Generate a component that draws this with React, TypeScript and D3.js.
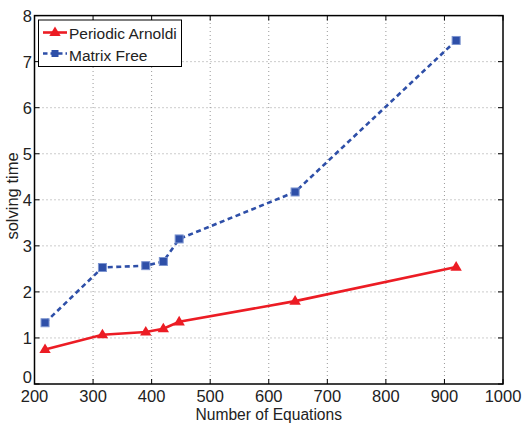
import React from "react";
import * as d3 from "d3";

// values
const equations = [218, 316, 390, 420, 447, 645, 920];
const arnoldiTime = [0.75, 1.07, 1.13, 1.2, 1.35, 1.8, 2.54];
const matrixFreeTime = [1.33, 2.53, 2.57, 2.66, 3.15, 4.17, 7.46];
const xTicks = [200, 300, 400, 500, 600, 700, 800, 900, 1000];
const yTicks = [0, 1, 2, 3, 4, 5, 6, 7, 8];

const W = 522;
const H = 424;
const margin = { top: 15.6, right: 19, bottom: 40, left: 34.5 };
const RED = "#ec1c24";
const BLUE = "#2e4fa8";
const FONT = "'Liberation Sans', Arial, Helvetica, sans-serif";

function triangle(cx: number, cy: number, r: number) {
  return `M${cx},${cy - r}L${cx + r * 0.95},${cy + r * 0.6}L${cx - r * 0.95},${cy + r * 0.6}Z`;
}

export default function App() {
  const x = d3.scaleLinear().domain([200, 1000]).range([margin.left, W - margin.right]);
  const y = d3.scaleLinear().domain([0, 8]).range([H - margin.bottom, margin.top]);
  const x0 = x(200), x1 = x(1000), y0 = y(0), y1 = y(8);

  const redPts = equations.map((e, i) => [e, arnoldiTime[i]] as [number, number]);
  const bluePts = equations.map((e, i) => [e, matrixFreeTime[i]] as [number, number]);
  const line = d3.line<[number, number]>().x((d) => x(d[0])).y((d) => y(d[1]));

  return (
    <svg width={W} height={H} style={{ position: "absolute", left: 0, top: 0, background: "#fff" }}>
      {/* grid */}
      <g stroke="#999" strokeWidth={1} strokeDasharray="1,3">
        {xTicks.slice(1, -1).map((t) => (
          <line key={"gx" + t} x1={x(t)} x2={x(t)} y1={y0} y2={y1} />
        ))}
        {yTicks.slice(1, -1).map((t) => (
          <line key={"gy" + t} x1={x0} x2={x1} y1={y(t)} y2={y(t)} />
        ))}
      </g>
      {/* ticks inward */}
      <g stroke="#000" strokeWidth={1}>
        {xTicks.map((t) => (
          <g key={"tx" + t}>
            <line x1={x(t)} x2={x(t)} y1={y0} y2={y0 - 5} />
            <line x1={x(t)} x2={x(t)} y1={y1} y2={y1 + 5} />
          </g>
        ))}
        {yTicks.map((t) => (
          <g key={"ty" + t}>
            <line x1={x0} x2={x0 + 5} y1={y(t)} y2={y(t)} />
            <line x1={x1} x2={x1 - 5} y1={y(t)} y2={y(t)} />
          </g>
        ))}
      </g>
      {/* lines */}
      <path d={line(bluePts) || ""} fill="none" stroke={BLUE} strokeWidth={2.6} strokeDasharray="5,3.5" />
      <path d={line(redPts) || ""} fill="none" stroke={RED} strokeWidth={2.6} />
      {bluePts.map((d, i) => (
        <rect key={"b" + i} x={x(d[0]) - 4} y={y(d[1]) - 4} width={8} height={8} fill={BLUE} stroke="#7d95d0" strokeWidth={1} />
      ))}
      {redPts.map((d, i) => (
        <path key={"r" + i} d={triangle(x(d[0]), y(d[1]), 6)} fill={RED} />
      ))}
      {/* axes box */}
      <rect x={x0} y={y1} width={x1 - x0} height={y0 - y1} fill="none" stroke="#000" strokeWidth={1.5} />
      {/* tick labels */}
      <g fontFamily={FONT} fontSize={16.5} fill="#222">
        {xTicks.map((t) => (
          <text key={"lx" + t} x={x(t)} y={y0 + 17.5} textAnchor="middle">{t}</text>
        ))}
        {yTicks.map((t) => (
          <text key={"ly" + t} x={x0 - 2.5} y={y(t) + (t === 0 ? -1 : 6)} textAnchor="end">{t}</text>
        ))}
      </g>
      <text x={(x0 + x1) / 2} y={420} textAnchor="middle" fontFamily={FONT} fontSize={15.6} fill="#222">
        Number of Equations
      </text>
      <text transform={`translate(18,196) rotate(-90)`} textAnchor="middle" fontFamily={FONT} fontSize={16.5} fill="#222">
        solving time
      </text>
      {/* legend */}
      <g fontFamily={FONT} fontSize={15.5} fill="#222">
        <rect x={38.5} y={20} width={143} height={46.5} fill="#fff" stroke="#000" strokeWidth={1} />
        <line x1={43} x2={67} y1={32.5} y2={32.5} stroke={RED} strokeWidth={2.6} />
        <path d={triangle(55, 32.5, 6)} fill={RED} />
        <text x={69} y={39}>Periodic Arnoldi</text>
        <line x1={43} x2={67} y1={53.5} y2={53.5} stroke={BLUE} strokeWidth={2.6} strokeDasharray="4.5,3" />
        <rect x={51.5} y={50} width={7} height={7} fill={BLUE} />
        <text x={69} y={60.5}>Matrix Free</text>
      </g>
    </svg>
  );
}
